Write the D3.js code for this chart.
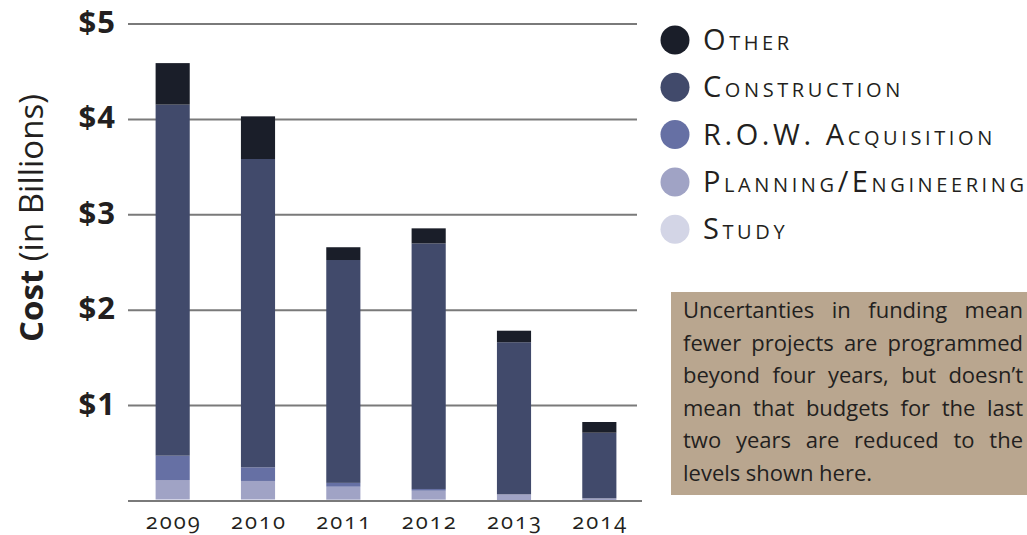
<!DOCTYPE html>
<html>
<head>
<meta charset="utf-8">
<script src="https://cdn.jsdelivr.net/npm/d3@7"></script>
<style>
  html, body { margin: 0; padding: 0; background: #fff; }
  svg { display: block; }
</style>
</head>
<body>
<svg id="chart" width="1027" height="535"></svg>
<script>
// ---- data ----
const years = ["2009", "2010", "2011", "2012", "2013", "2014"];
const seriesNames = ["Study", "Planning/Engineering", "R.O.W. Acquisition", "Construction", "Other"];
const study        = [0.020, 0.020, 0.015, 0.015, 0.010, 0.010];
const planning     = [0.200, 0.190, 0.135, 0.093, 0.060, 0.018];
const row          = [0.255, 0.143, 0.040, 0.018, 0.000, 0.000];
const construction = [3.680, 3.232, 2.336, 2.574, 1.594, 0.688];
const other        = [0.435, 0.447, 0.134, 0.158, 0.121, 0.112];
const yTicks = [0, 1, 2, 3, 4, 5];
const legendOrder = ["Other", "Construction", "R.O.W. Acquisition", "Planning/Engineering", "Study"];
const noteLines = [
  "Uncertanties in funding mean",
  "fewer projects are programmed",
  "beyond four years, but doesn\u2019t",
  "mean that budgets for the last",
  "two years are reduced to the",
  "levels shown here."
];

const colors = {
  "Other": "#1a1e29",
  "Construction": "#414a6b",
  "R.O.W. Acquisition": "#6670a4",
  "Planning/Engineering": "#a0a3c5",
  "Study": "#d3d5e6"
};

const table = years.map((y, i) => ({
  year: y,
  "Study": study[i],
  "Planning/Engineering": planning[i],
  "R.O.W. Acquisition": row[i],
  "Construction": construction[i],
  "Other": other[i]
}));

const svg = d3.select("#chart");
const FONT = "'Open Sans', 'Noto Sans', sans-serif";

const x = d3.scaleBand().domain(years).range([130, 642]).paddingInner(0.6).paddingOuter(0.3);
const y = d3.scaleLinear().domain([0, 5]).range([501, 24]);

// gridlines
svg.append("g").selectAll("line").data(yTicks.filter(d => d > 0)).join("line")
  .attr("x1", 128).attr("x2", 637)
  .attr("y1", d => y(d)).attr("y2", d => y(d))
  .attr("stroke", "#7a7a7a").attr("stroke-width", 2);

// bars
const stack = d3.stack().keys(seriesNames)(table);
svg.append("g").selectAll("g").data(stack).join("g")
  .attr("fill", d => colors[d.key])
  .selectAll("rect").data(d => d).join("rect")
  .attr("x", d => x(d.data.year))
  .attr("width", x.bandwidth())
  .attr("y", d => y(d[1]))
  .attr("height", d => Math.max(0, y(d[0]) - y(d[1])));

// baseline
svg.append("line").attr("x1", 128).attr("x2", 642)
  .attr("y1", y(0)).attr("y2", y(0))
  .attr("stroke", "#7a7a7a").attr("stroke-width", 2);

// y tick labels
svg.append("g").selectAll("text").data(yTicks.filter(d => d > 0)).join("text")
  .attr("x", 116).attr("y", d => y(d) + 9)
  .attr("text-anchor", "end")
  .attr("font-family", FONT).attr("font-weight", "bold").attr("font-size", 31)
  .attr("letter-spacing", 1)
  .attr("fill", "#231f20")
  .text(d => "$" + d);

// y axis title
const yt = svg.append("text")
  .attr("transform", "translate(43,218) rotate(-90)")
  .attr("text-anchor", "middle")
  .attr("font-family", FONT).attr("font-size", 33).attr("fill", "#231f20");
yt.append("tspan").attr("font-weight", "bold").text("Cost");
yt.append("tspan").text(" (in Billions)");

// x labels
svg.append("g").selectAll("text").data(years).join("text")
  .attr("x", d => x(d) + x.bandwidth() / 2 + 1)
  .attr("y", 529)
  .attr("text-anchor", "middle")
  .attr("font-family", FONT).attr("font-size", 22).attr("letter-spacing", 2)
  .style("font-variant-numeric", "oldstyle-nums")
  .attr("fill", "#231f20")
  .text(d => d);

// legend
const lg = svg.append("g").selectAll("g").data(legendOrder).join("g")
  .attr("transform", (d, i) => `translate(675,${40 + i * 47.3})`);
lg.append("circle").attr("r", 14.5).attr("fill", d => colors[d]);
lg.append("text")
  .attr("x", 28).attr("y", 10)
  .attr("font-family", FONT).attr("font-size", 29)
  .attr("font-variant", "small-caps")
  .attr("letter-spacing", 3.6)
  .attr("fill", "#231f20")
  .text(d => d);

// annotation box
svg.append("rect").attr("x", 671).attr("y", 292).attr("width", 356).attr("height", 203)
  .attr("fill", "#b9a68f");
const left = 683, right = 1023, lh = 32.6, firstBase = 318;
const ng = svg.append("g").attr("font-family", FONT).attr("font-size", 22).attr("fill", "#231f20");
noteLines.forEach((line, li) => {
  const words = line.split(" ");
  const yy = firstBase + li * lh;
  const nodes = words.map(w => ng.append("text").attr("y", yy).text(w));
  const widths = nodes.map(n => n.node().getComputedTextLength());
  const total = d3.sum(widths);
  const last = li === noteLines.length - 1;
  const gap = last ? 5.5 : Math.max(2, (right - left - total) / (words.length - 1));
  let cx = left;
  nodes.forEach((n, k) => { n.attr("x", cx); cx += widths[k] + gap; });
});
</script>
</body>
</html>
